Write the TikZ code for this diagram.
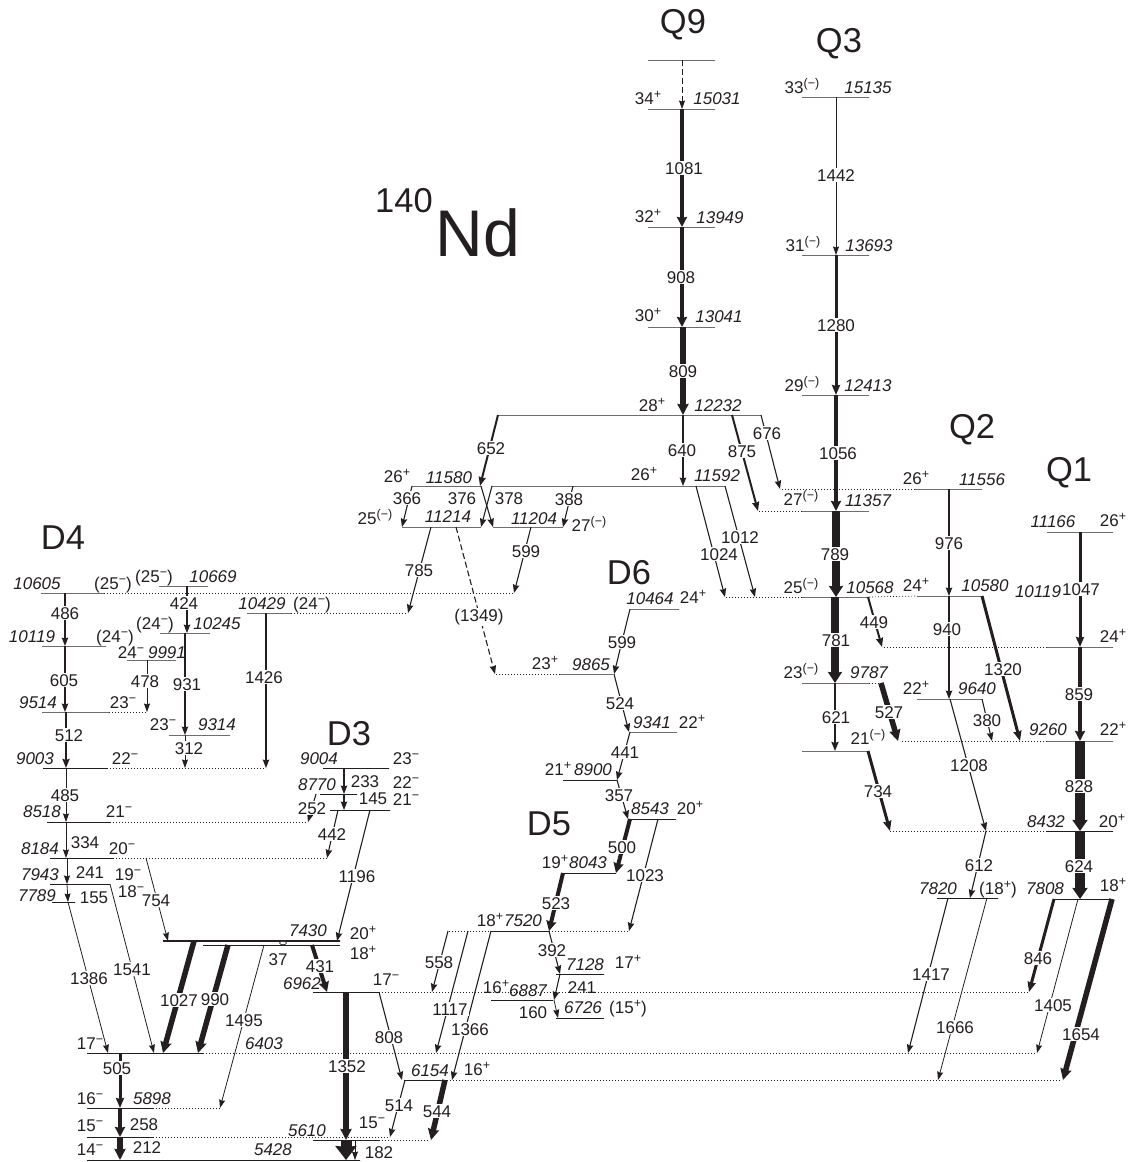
\documentclass[tikz,border=0pt]{standalone}
\usepackage{fontspec}
\setmainfont{Liberation Sans}
\usepackage{tikz}
\usetikzlibrary{arrows.meta,shapes.geometric}
\definecolor{ink}{HTML}{231F20}
\newcommand{\supr}[1]{\raisebox{5.5pt}{\fontsize{12.5}{13}\selectfont #1}}
\newcommand{\evn}{\supr{+}}
\newcommand{\odd}{\supr{−}}
\newcommand{\unk}{\supr{(−)}}

\begin{document}
\begin{tikzpicture}[
  x=1pt,y=-1pt,
  font=\fontsize{17}{18}\selectfont,
  every node/.style={text=ink},
  lvl/.style={draw=ink,line width=.8pt,inner sep=0pt,outer sep=0pt,minimum height=0pt},
  lvh/.style={lvl,line width=2.6pt},
  dot/.style={draw=ink,line width=.7pt,dash pattern=on 1pt off 2pt},
  dsh/.style={dash pattern=on 6pt off 3pt},
  ga/.style={draw=ink,line width=.8pt,-{Stealth[length=8.5pt,width=6pt,inset=1pt]}},
  gb/.style={draw=ink,line width=1.1pt,-{Stealth[length=8.5pt,width=6.5pt,inset=1pt]}},
  gc/.style={draw=ink,line width=2pt,-{Stealth[length=9pt,width=7pt,inset=1pt]}},
  gd/.style={draw=ink,line width=3pt,-{Stealth[length=10pt,width=8pt,inset=1pt]}},
  ge/.style={draw=ink,line width=4pt,-{Stealth[length=10pt,width=10pt,inset=1pt]}},
  gf/.style={draw=ink,line width=5.5pt,-{Stealth[length=11pt,width=11pt,inset=1pt]}},
  gg/.style={draw=ink,line width=8pt,-{Stealth[length=11pt,width=14pt,inset=1pt]}},
  gh/.style={draw=ink,line width=10pt,-{Stealth[length=11pt,width=15pt,inset=1pt]}},
  txt/.style={anchor=base,inner sep=0pt,yshift=-6pt},
  glab/.style={txt,fill=white,inner sep=1pt},
  nrg/.style={txt,font=\fontsize{17}{18}\selectfont\itshape},
  band/.style={anchor=base,inner sep=0pt,yshift=-12pt,font=\fontsize{34.5}{36}\selectfont}
]
\useasboundingbox (0,0) rectangle (1131,1162);
% levels
\node[lvl,minimum width=67pt] (q9top) at (681.5,60) {};
\node[lvl,minimum width=67pt] (n15031) at (681.5,109) {};
\node[lvl,minimum width=67pt] (n13949) at (681.5,227) {};
\node[lvl,minimum width=67pt] (n13041) at (681.5,327) {};
\node[lvl,minimum width=263pt] (n12232) at (629.5,415) {};
\node[lvl,minimum width=67pt] (n15135) at (835.5,97) {};
\node[lvl,minimum width=67pt] (n13693) at (835.5,255) {};
\node[lvl,minimum width=67pt] (n12413) at (835.5,395) {};
\node[lvl,minimum width=67pt] (n11357) at (835.5,511) {};
\node[lvl,minimum width=67pt] (n10568) at (835.5,597) {};
\node[lvl,minimum width=67pt] (n9787) at (835.5,683) {};
\node[lvl,minimum width=67pt] (n21q) at (835.5,751) {};
\node[lvl,minimum width=67pt] (n11556) at (948.5,489) {};
\node[lvl,minimum width=65pt] (n10580) at (949.5,596) {};
\node[lvl,minimum width=65pt] (n9640) at (949.5,699) {};
\node[lvl,minimum width=66pt] (n11166) at (1080,532) {};
\node[lvl,minimum width=66pt] (q10119) at (1080,647) {};
\node[lvl,minimum width=66pt] (n9260) at (1080,741) {};
\node[lvl,minimum width=66pt] (n8432) at (1080,831) {};
\node[lvl,minimum width=60pt] (n7808) at (1083,899) {};
\node[lvl,minimum width=61pt] (n7820) at (967.5,898) {};
\node[lvl,minimum width=233pt] (n11592) at (608.5,486) {};
\node[lvl,minimum width=69pt] (n11580) at (446.5,486) {};
\node[lvl,minimum width=79pt] (n11214) at (441.5,527) {};
\node[lvl,minimum width=70pt] (n11204) at (528,527) {};
\node[lvl,minimum width=49pt] (n10464) at (654.5,609) {};
\node[lvl,minimum width=53pt] (n9865) at (586.5,674) {};
\node[lvl,minimum width=47pt] (n9341) at (653.5,732) {};
\node[lvl,minimum width=54pt] (n8900) at (590,780) {};
\node[lvl,minimum width=48pt] (n8543) at (652,819) {};
\node[lvl,minimum width=53pt] (n8043) at (589.5,873) {};
\node[lvl,minimum width=57pt] (n7520) at (520.5,931) {};
\node[lvl,minimum width=48pt] (n7128) at (580,974) {};
\node[lvl,minimum width=62pt] (n6887) at (522,1000) {};
\node[lvl,minimum width=48pt] (n6726) at (580,1018) {};
\node[lvl,minimum width=63pt] (n10605) at (72.5,593) {};
\node[lvl,minimum width=49pt] (n10669) at (183.5,586) {};
\node[lvl,minimum width=44pt] (n10429) at (269,613) {};
\node[lvl,minimum width=50pt] (n10245) at (185,633) {};
\node[lvl,minimum width=64pt] (n10119) at (74,646) {};
\node[lvl,minimum width=49pt] (n9991) at (151.5,660) {};
\node[lvl,minimum width=67pt] (n9514) at (75.5,712) {};
\node[lvl,minimum width=61pt] (n9314) at (199.5,735) {};
\node[lvl,minimum width=64pt] (n9003) at (75,768) {};
\node[lvl,minimum width=63pt] (n8518) at (78.5,822) {};
\node[lvl,minimum width=63pt] (n8184) at (81.5,858) {};
\node[lvl,minimum width=60pt] (n7943) at (80,884) {};
\node[lvl,minimum width=23pt] (n7789) at (63.5,902) {};
\node[lvl,minimum width=66pt] (n9004) at (356,768) {};
\node[lvl,minimum width=37pt] (n8770) at (338.5,794) {};
\node[lvl,minimum width=60pt] (n21d) at (360,810) {};
\node[lvh,minimum width=177pt] (n7430) at (251.5,941) {};
\node[lvl,minimum width=137pt] (n18d) at (271.5,945) {};
\node[lvl,minimum width=66pt] (n6962) at (346,992) {};
\node[lvl,minimum width=116pt] (n6403) at (145,1053) {};
\node[lvl,minimum width=43pt] (n6154) at (425.5,1080) {};
\node[lvl,minimum width=66pt] (n5898) at (120,1108) {};
\node[lvl,minimum width=66pt] (n15m) at (120,1137) {};
\node[lvl,minimum width=66pt] (n5610) at (346,1140) {};
\node[lvl,minimum width=273pt] (n5428) at (223.5,1160) {};
\node[draw=ink,fill=white,line width=.6pt,ellipse,inner sep=0pt,minimum width=7pt,minimum height=3.5pt] (k37) at (283,943) {};

% dotted extensions
\coordinate (d11357) at (758,511); \draw[dot] (n11357.west) -- (d11357);
\coordinate (d11556) at (780,489); \draw[dot] (n11556.west) -- (d11556);
\coordinate (d10568) at (725,597); \draw[dot] (n10568.west) -- (d10568);
\draw[dot] (n10568.east) -- (n10580.west);
\coordinate (d10119) at (882,647); \draw[dot] (q10119.west) -- (d10119);
\coordinate (d9787) at (880,683); \draw[dot] (n9787.east) -- (d9787);
\coordinate (d9260) at (900,741); \draw[dot] (n9260.west) -- (d9260);
\coordinate (d8432) at (890,831); \draw[dot] (n8432.west) -- (d8432);
\coordinate (d10605) at (513,593); \draw[dot] (n10605.east) -- (d10605);
\coordinate (d10429) at (408,613); \draw[dot] (n10429.east) -- (d10429);
\coordinate (d9514) at (147,712); \draw[dot] (n9514.east) -- (d9514);
\coordinate (d9003) at (266,768); \draw[dot] (n9003.east) -- (d9003);
\coordinate (d8518) at (308,822); \draw[dot] (n8518.east) -- (d8518);
\coordinate (d8184) at (327,858); \draw[dot] (n8184.east) -- (d8184);
\coordinate (d6403) at (1037,1053); \draw[dot] (n6403.east) -- (d6403);
\coordinate (d6962) at (1028,992); \draw[dot] (n6962.east) -- (d6962);
\coordinate (d6154) at (1062,1080); \draw[dot] (n6154.east) -- (d6154);
\coordinate (d5898) at (220,1108); \draw[dot] (n5898.east) -- (d5898);
\coordinate (d15m) at (390,1137); \draw[dot] (n15m.east) -- (d15m);
\coordinate (d5610) at (430,1140); \draw[dot] (n5610.east) -- (d5610);
\coordinate (d9865) at (495,674); \draw[dot] (n9865.west) -- (d9865);
\coordinate (d7520) at (448,931); \draw[dot] (n7520.west) -- (d7520);
\coordinate (e7520) at (628,931); \draw[dot] (n7520.east) -- (e7520);

% transitions
\coordinate (aq9) at (682,60); \coordinate (bq9) at (682,109); \draw[ga,dsh] (aq9) -- (bq9);
\coordinate (a1081) at (682,109); \coordinate (b1081) at (682,227); \draw[ge] (a1081) -- (b1081);
\coordinate (a908) at (682,227); \coordinate (b908) at (682,327); \draw[ge] (a908) -- (b908);
\coordinate (a809) at (683,327); \coordinate (b809) at (683,415); \draw[gf] (a809) -- (b809);
\coordinate (a652) at (498,415); \coordinate (b652) at (480,486); \draw[gc] (a652) -- (b652);
\coordinate (a640) at (683,415); \coordinate (b640) at (683,486); \draw[gb] (a640) -- (b640);
\coordinate (a875) at (732,415); \coordinate (b875) at (758,511); \draw[gc] (a875) -- (b875);
\coordinate (a676) at (761,415); \coordinate (b676) at (780,489); \draw[gb] (a676) -- (b676);
\coordinate (a366) at (412,486); \coordinate (b366) at (402,527); \draw[gb] (a366) -- (b366);
\coordinate (a376) at (481,486); \coordinate (b376) at (493,527); \draw[gb] (a376) -- (b376);
\coordinate (a378) at (492,486); \coordinate (b378) at (481,527); \draw[gb] (a378) -- (b378);
\coordinate (a388) at (573,486); \coordinate (b388) at (563,527); \draw[gb] (a388) -- (b388);
\coordinate (a599u) at (531,527); \coordinate (b599u) at (514,593); \draw[gb] (a599u) -- (b599u);
\coordinate (a785) at (431,527); \coordinate (b785) at (408,613); \draw[gb] (a785) -- (b785);
\coordinate (a1349) at (456,527); \coordinate (b1349) at (495,674); \draw[gb,dsh] (a1349) -- (b1349);
\coordinate (a1024) at (696,486); \coordinate (b1024) at (725,597); \draw[gb] (a1024) -- (b1024);
\coordinate (a1012) at (725,486); \coordinate (b1012) at (755,597); \draw[gb] (a1012) -- (b1012);
\coordinate (a599d) at (630,609); \coordinate (b599d) at (614,674); \draw[gb] (a599d) -- (b599d);
\coordinate (a524) at (614,674); \coordinate (b524) at (629,732); \draw[gb] (a524) -- (b524);
\coordinate (a441) at (630,732); \coordinate (b441) at (617,780); \draw[gb] (a441) -- (b441);
\coordinate (a357) at (617,780); \coordinate (b357) at (628,819); \draw[gb] (a357) -- (b357);
\coordinate (a500) at (630,819); \coordinate (b500) at (616,873); \draw[ge] (a500) -- (b500);
\coordinate (a523) at (563,873); \coordinate (b523) at (549,931); \draw[ge] (a523) -- (b523);
\coordinate (a392) at (549,931); \coordinate (b392) at (560,974); \draw[gb] (a392) -- (b392);
\coordinate (a241u) at (560,974); \coordinate (b241u) at (554,1000); \draw[gb] (a241u) -- (b241u);
\coordinate (a160) at (554,1000); \coordinate (b160) at (558,1018); \draw[ga] (a160) -- (b160);
\coordinate (a1023) at (658,819); \coordinate (b1023) at (629,931); \draw[gb] (a1023) -- (b1023);
\coordinate (a558) at (448,931); \coordinate (b558) at (432,992); \draw[gb] (a558) -- (b558);
\coordinate (a1117) at (468,931); \coordinate (b1117) at (436,1053); \draw[gb] (a1117) -- (b1117);
\coordinate (a1366) at (491,931); \coordinate (b1366) at (452,1080); \draw[gb] (a1366) -- (b1366);
\coordinate (a544) at (445,1080); \coordinate (b544) at (431,1140); \draw[gf] (a544) -- (b544);
\coordinate (a808) at (379,992); \coordinate (b808) at (402,1080); \draw[gb] (a808) -- (b808);
\coordinate (a514) at (405,1080); \coordinate (b514) at (390,1137); \draw[gb] (a514) -- (b514);
\coordinate (a1352) at (346,992); \coordinate (b1352) at (346,1140); \draw[gf] (a1352) -- (b1352);
\coordinate (a182) at (346,1140); \coordinate (b182) at (346,1160);
\draw[draw=ink,line width=11pt,-{Stealth[length=14pt,width=21pt,inset=1pt]}] (a182) -- (b182);
\coordinate (a182t) at (355,1140); \coordinate (b182t) at (355,1160); \draw[ga] (a182t) -- (b182t);
\coordinate (a431) at (312,945); \coordinate (b431) at (327,992); \draw[ge] (a431) -- (b431);
\coordinate (a1196) at (370,810); \coordinate (b1196) at (337,941); \draw[gb] (a1196) -- (b1196);
\coordinate (a442) at (338,810); \coordinate (b442) at (327,858); \draw[gb] (a442) -- (b442);
\coordinate (a252) at (316,794); \coordinate (b252) at (308,822); \draw[gb] (a252) -- (b252);
\coordinate (a233) at (344,768); \coordinate (b233) at (344,794); \draw[gb] (a233) -- (b233);
\coordinate (a145) at (344,794); \coordinate (b145) at (344,810); \draw[gb] (a145) -- (b145);
\coordinate (a754) at (146,858); \coordinate (b754) at (168,941); \draw[ga] (a754) -- (b754);
\coordinate (a1541) at (110,884); \coordinate (b1541) at (154,1053); \draw[ga] (a1541) -- (b1541);
\coordinate (a1386) at (68,902); \coordinate (b1386) at (108,1053); \draw[ga] (a1386) -- (b1386);
\coordinate (a1027) at (194,941); \coordinate (b1027) at (163,1053); \draw[gf] (a1027) -- (b1027);
\coordinate (a990) at (228,945); \coordinate (b990) at (198,1053); \draw[gf] (a990) -- (b990);
\coordinate (a1495) at (264,945); \coordinate (b1495) at (220,1108); \draw[ga] (a1495) -- (b1495);
\coordinate (a505) at (120,1053); \coordinate (b505) at (120,1108); \draw[gd] (a505) -- (b505);
\coordinate (a258) at (120,1108); \coordinate (b258) at (120,1137); \draw[ge] (a258) -- (b258);
\coordinate (a212) at (120,1137); \coordinate (b212) at (120,1160); \draw[gf] (a212) -- (b212);
\coordinate (a486) at (65,593); \coordinate (b486) at (65,646); \draw[gb] (a486) -- (b486);
\coordinate (a605) at (65,646); \coordinate (b605) at (65,712); \draw[gb] (a605) -- (b605);
\coordinate (a512) at (66,712); \coordinate (b512) at (66,768); \draw[gc] (a512) -- (b512);
\coordinate (a485) at (66,768); \coordinate (b485) at (66,822); \draw[ga] (a485) -- (b485);
\coordinate (a334) at (66,822); \coordinate (b334) at (66,858); \draw[ga] (a334) -- (b334);
\coordinate (a241d) at (67,858); \coordinate (b241d) at (67,884); \draw[ga] (a241d) -- (b241d);
\coordinate (a155) at (67,884); \coordinate (b155) at (68,902); \draw[ga] (a155) -- (b155);
\coordinate (a424) at (187,586); \coordinate (b424) at (187,633); \draw[gb] (a424) -- (b424);
\coordinate (a931) at (185,633); \coordinate (b931) at (185,735); \draw[gb] (a931) -- (b931);
\coordinate (a312) at (185,735); \coordinate (b312) at (185,768); \draw[ga] (a312) -- (b312);
\coordinate (a478) at (147,660); \coordinate (b478) at (147,712); \draw[ga] (a478) -- (b478);
\coordinate (a1426) at (266,613); \coordinate (b1426) at (266,768); \draw[gb] (a1426) -- (b1426);
\coordinate (a1442) at (836,97); \coordinate (b1442) at (836,255); \draw[ga] (a1442) -- (b1442);
\coordinate (a1280) at (836,255); \coordinate (b1280) at (836,395); \draw[gd] (a1280) -- (b1280);
\coordinate (a1056) at (836,395); \coordinate (b1056) at (836,511); \draw[ge] (a1056) -- (b1056);
\coordinate (a789) at (836,511); \coordinate (b789) at (836,597); \draw[gg] (a789) -- (b789);
\coordinate (a781) at (835,597); \coordinate (b781) at (835,683); \draw[gg] (a781) -- (b781);
\coordinate (a621) at (835,683); \coordinate (b621) at (835,751); \draw[gc] (a621) -- (b621);
\coordinate (a527) at (881,683); \coordinate (b527) at (898,741); \draw[gf] (a527) -- (b527);
\coordinate (a734) at (868,751); \coordinate (b734) at (890,831); \draw[gd] (a734) -- (b734);
\coordinate (a449) at (868,597); \coordinate (b449) at (882,647); \draw[gc] (a449) -- (b449);
\coordinate (a976) at (949,489); \coordinate (b976) at (949,596); \draw[gb] (a976) -- (b976);
\coordinate (a940) at (949,596); \coordinate (b940) at (949,699); \draw[gb] (a940) -- (b940);
\coordinate (a380) at (982,699); \coordinate (b380) at (992,741); \draw[gb] (a380) -- (b380);
\coordinate (a1320) at (982,596); \coordinate (b1320) at (1020,741); \draw[gd] (a1320) -- (b1320);
\coordinate (a1208) at (950,699); \coordinate (b1208) at (986,831); \draw[gb] (a1208) -- (b1208);
\coordinate (a612) at (986,831); \coordinate (b612) at (970,898); \draw[gb] (a612) -- (b612);
\coordinate (a1417) at (948,898); \coordinate (b1417) at (908,1053); \draw[gb] (a1417) -- (b1417);
\coordinate (a1666) at (987,898); \coordinate (b1666) at (938,1080); \draw[ga] (a1666) -- (b1666);
\coordinate (a846) at (1054,899); \coordinate (b846) at (1029,992); \draw[gd] (a846) -- (b846);
\coordinate (a1405) at (1078,899); \coordinate (b1405) at (1037,1053); \draw[ga] (a1405) -- (b1405);
\coordinate (a1654) at (1112,899); \coordinate (b1654) at (1063,1080); \draw[gf] (a1654) -- (b1654);
\coordinate (a1047) at (1080,532); \coordinate (b1047) at (1080,647); \draw[gd] (a1047) -- (b1047);
\coordinate (a859) at (1080,647); \coordinate (b859) at (1080,741); \draw[ge] (a859) -- (b859);
\coordinate (a828) at (1080,741); \coordinate (b828) at (1080,831); \draw[gh] (a828) -- (b828);
\coordinate (a624) at (1080,831); \coordinate (b624) at (1080,899); \draw[gh] (a624) -- (b624);

% transition labels
\node[glab] (g1081) at (684,168) {1081};
\node[glab] (g908) at (681,277) {908};
\node[glab] (g809) at (683,371) {809};
\node[glab] (g652) at (491,448) {652};
\node[glab] (g640) at (682,450) {640};
\node[glab] (g875) at (742,451) {875};
\node[glab] (g676) at (767,433) {676};
\node[glab] (g366) at (407,498) {366};
\node[txt] (g376) at (462,498) {376};
\node[txt] (g378) at (509,498) {378};
\node[glab] (g388) at (569,499) {388};
\node[glab] (g599u) at (526,551) {599};
\node[glab] (g785) at (419,570) {785};
\node[glab] (g1349) at (479,615) {(1349)};
\node[glab] (g1024) at (719,554) {1024};
\node[glab] (g1012) at (740,537) {1012};
\node[glab] (g599d) at (622,642) {599};
\node[glab] (g524) at (620,703) {524};
\node[glab] (g441) at (625,752) {441};
\node[glab] (g357) at (619,795) {357};
\node[glab] (g500) at (622,847) {500};
\node[glab] (g523) at (556,903) {523};
\node[glab] (g392) at (552,950) {392};
\node[txt] (g241u) at (582,987) {241};
\node[txt] (g160) at (533,1012) {160};
\node[glab] (g1023) at (645,875) {1023};
\node[glab] (g558) at (439,962) {558};
\node[glab] (g1117) at (450,1009) {1117};
\node[glab] (g1366) at (470,1029) {1366};
\node[glab] (g544) at (437,1111) {544};
\node[glab] (g808) at (389,1037) {808};
\node[glab] (g514) at (399,1105) {514};
\node[glab] (g1352) at (347,1066) {1352};
\node[txt] (g182) at (379,1152) {182};
\node[glab] (g431) at (320,966) {431};
\node[glab] (g1196) at (357,876) {1196};
\node[glab] (g442) at (332,834) {442};
\node[glab] (g252) at (312,808) {252};
\node[txt] (g233) at (365,781) {233};
\node[txt] (g145) at (373,798) {145};
\node[glab] (g754) at (156,900) {754};
\node[glab] (g1541) at (132,969) {1541};
\node[glab] (g1386) at (89,978) {1386};
\node[glab] (g1027) at (179,1000) {1027};
\node[glab] (g990) at (215,999) {990};
\node[glab] (g1495) at (244,1020) {1495};
\node[txt] (g37) at (278,959) {37};
\node[glab] (g505) at (117,1068) {505};
\node[txt] (g258) at (144,1124) {258};
\node[txt] (g212) at (147,1147) {212};
\node[glab] (g486) at (65,613) {486};
\node[glab] (g605) at (64,680) {605};
\node[glab] (g512) at (69,735) {512};
\node[glab] (g485) at (65,795) {485};
\node[txt] (g334) at (85,842) {334};
\node[txt] (g241d) at (90,872) {241};
\node[txt] (g155) at (94,897) {155};
\node[glab] (g424) at (184,603) {424};
\node[glab] (g931) at (187,684) {931};
\node[glab] (g312) at (189,748) {312};
\node[glab] (g478) at (145,681) {478};
\node[glab] (g1426) at (264,677) {1426};
\node[glab] (g1442) at (836,175) {1442};
\node[glab] (g1280) at (836,325) {1280};
\node[glab] (g1056) at (838,453) {1056};
\node[glab] (g789) at (835,554) {789};
\node[glab] (g781) at (836,640) {781};
\node[glab] (g621) at (836,717) {621};
\node[glab] (g527) at (889,712) {527};
\node[glab] (g734) at (878,791) {734};
\node[glab] (g449) at (874,622) {449};
\node[glab] (g976) at (949,543) {976};
\node[glab] (g940) at (947,629) {940};
\node[glab] (g380) at (987,720) {380};
\node[glab] (g1320) at (1003,669) {1320};
\node[glab] (g1208) at (969,765) {1208};
\node[glab] (g612) at (979,865) {612};
\node[glab] (g1417) at (931,974) {1417};
\node[glab] (g1666) at (955,1027) {1666};
\node[glab] (g846) at (1038,958) {846};
\node[glab] (g1405) at (1053,1005) {1405};
\node[glab] (g1654) at (1081,1034) {1654};
\node[glab] (g1047) at (1081,589) {1047};
\node[glab] (g859) at (1079,694) {859};
\node[glab] (g828) at (1079,786) {828};
\node[glab] (g624) at (1079,866) {624};

% energies
\node[nrg] (e15031) at (717,98) {15031};
\node[nrg] (e13949) at (720,217) {13949};
\node[nrg] (e13041) at (719,316) {13041};
\node[nrg] (e12232) at (718,405) {12232};
\node[nrg] (e15135) at (868,87) {15135};
\node[nrg] (e13693) at (869,245) {13693};
\node[nrg] (e12413) at (868,385) {12413};
\node[nrg] (e11357) at (868,500) {11357};
\node[nrg] (e10568) at (870,587) {10568};
\node[nrg] (e9787) at (869,672) {9787};
\node[nrg] (e11556) at (982,479) {11556};
\node[nrg] (e10580) at (985,585) {10580};
\node[nrg] (e9640) at (977,688) {9640};
\node[nrg] (e11166) at (1053,521) {11166};
\node[nrg] (f10119) at (1038,591) {10119};
\node[nrg] (e9260) at (1048,729) {9260};
\node[nrg] (e8432) at (1046,821) {8432};
\node[nrg] (e7808) at (1045,888) {7808};
\node[nrg] (e7820) at (938,888) {7820};
\node[nrg] (e11580) at (449,477) {11580};
\node[nrg] (e11214) at (448,516) {11214};
\node[nrg] (e11204) at (534,518) {11204};
\node[nrg] (e11592) at (717,475) {11592};
\node[nrg] (e10464) at (650,598) {10464};
\node[nrg] (e9865) at (591,664) {9865};
\node[nrg] (e9341) at (652,722) {9341};
\node[nrg] (e8900) at (593,769) {8900};
\node[nrg] (e8543) at (650,808) {8543};
\node[nrg] (e8043) at (588,862) {8043};
\node[nrg] (e7520) at (523,920) {7520};
\node[nrg] (e7128) at (585,964) {7128};
\node[nrg] (e6887) at (528,990) {6887};
\node[nrg] (e6726) at (583,1007) {6726};
\node[nrg] (e10605) at (37,583) {10605};
\node[nrg] (e10669) at (213,576) {10669};
\node[nrg] (e10429) at (262,603) {10429};
\node[nrg] (e10245) at (217,623) {10245};
\node[nrg] (e10119) at (32,636) {10119};
\node[nrg] (e9991) at (167,652) {9991};
\node[nrg] (e9514) at (38,702) {9514};
\node[nrg] (e9314) at (217,724) {9314};
\node[nrg] (e9003) at (35,758) {9003};
\node[nrg] (e8518) at (42,811) {8518};
\node[nrg] (e8184) at (40,848) {8184};
\node[nrg] (e7943) at (40,874) {7943};
\node[nrg] (e7789) at (37,895) {7789};
\node[nrg] (e9004) at (319,758) {9004};
\node[nrg] (e8770) at (317,784) {8770};
\node[nrg] (e7430) at (308,930) {7430};
\node[nrg] (e6962) at (302,983) {6962};
\node[nrg] (e6403) at (264,1043) {6403};
\node[nrg] (e6154) at (430,1070) {6154};
\node[nrg] (e5898) at (152,1098) {5898};
\node[nrg] (e5610) at (307,1130) {5610};
\node[nrg] (e5428) at (273,1149) {5428};

% spins
\node[txt] (s34) at (648,98) {34\evn};
\node[txt] (s32) at (648,216) {32\evn};
\node[txt] (s30) at (648,315) {30\evn};
\node[txt] (s28) at (652,405) {28\evn};
\node[txt] (s33) at (802,87) {33\unk};
\node[txt] (s31) at (803,245) {31\unk};
\node[txt] (s29) at (802,385) {29\unk};
\node[txt] (s27) at (801,499) {27\unk};
\node[txt] (s25) at (801,587) {25\unk};
\node[txt] (s23) at (801,672) {23\unk};
\node[txt] (s21) at (868,738) {21\unk};
\node[txt] (s26a) at (916,478) {26\evn};
\node[txt] (s24a) at (916,585) {24\evn};
\node[txt] (s22a) at (916,688) {22\evn};
\node[txt] (s26b) at (1113,520) {26\evn};
\node[txt] (s24b) at (1113,636) {24\evn};
\node[txt] (s22b) at (1113,729) {22\evn};
\node[txt] (s20a) at (1112,821) {20\evn};
\node[txt] (s18a) at (1113,885) {18\evn};
\node[txt] (s18b) at (998,888) {(18\evn)};
\node[txt] (s26c) at (397,476) {26\evn};
\node[txt] (s25b) at (375,518) {25\unk};
\node[txt] (s27b) at (589,525) {27\unk};
\node[txt] (s26d) at (644,474) {26\evn};
\node[txt] (s24c) at (693,597) {24\evn};
\node[txt] (s23b) at (545,663) {23\evn};
\node[txt] (s22c) at (692,722) {22\evn};
\node[txt] (s21b) at (558,769) {21\evn};
\node[txt] (s20b) at (690,808) {20\evn};
\node[txt] (s19) at (555,862) {19\evn};
\node[txt] (s18c) at (490,920) {18\evn};
\node[txt] (s17a) at (628,962) {17\evn};
\node[txt] (s16a) at (496,987) {16\evn};
\node[txt] (s15a) at (628,1007) {(15\evn)};
\node[txt] (s25c) at (113,583) {(25\odd)};
\node[txt] (s25d) at (154,576) {(25\odd)};
\node[txt] (s24d) at (155,623) {(24\odd)};
\node[txt] (s24e) at (312,603) {(24\odd)};
\node[txt] (s24f) at (115,636) {(24\odd)};
\node[txt] (s24g) at (131,652) {24\odd};
\node[txt] (s23c) at (123,702) {23\odd};
\node[txt] (s23d) at (163,724) {23\odd};
\node[txt] (s22d) at (125,758) {22\odd};
\node[txt] (s21c) at (119,811) {21\odd};
\node[txt] (s20c) at (122,848) {20\odd};
\node[txt] (s19b) at (128,874) {19\odd};
\node[txt] (s18d) at (131,891) {18\odd};
\node[txt] (s23e) at (406,758) {23\odd};
\node[txt] (s22e) at (406,782) {22\odd};
\node[txt] (s21d) at (406,799) {21\odd};
\node[txt] (s20d) at (363,933) {20\evn};
\node[txt] (s18e) at (363,953) {18\evn};
\node[txt] (s17b) at (386,979) {17\odd};
\node[txt] (s17c) at (90,1043) {17\odd};
\node[txt] (s16b) at (90,1098) {16\odd};
\node[txt] (s15b) at (90,1125) {15\odd};
\node[txt] (s14) at (90,1149) {14\odd};
\node[txt] (s15c) at (372,1122) {15\odd};
\node[txt] (s16c) at (477,1069) {16\evn};

% bands
\node[band] (q9) at (683,21) {Q9};
\node[band] (q3) at (839,40) {Q3};
\node[band] (q2) at (972,426) {Q2};
\node[band] (q1) at (1069,469) {Q1};
\node[band] (d4) at (63,537) {D4};
\node[band] (d3) at (349,733) {D3};
\node[band] (d6) at (629,572) {D6};
\node[band] (d5) at (549,823) {D5};
\node[band] (mass) at (404,200) {140};
\node[anchor=center,inner sep=0pt,font=\fontsize{66}{70}\selectfont] (nd) at (478,233) {Nd};
\end{tikzpicture}
\end{document}
